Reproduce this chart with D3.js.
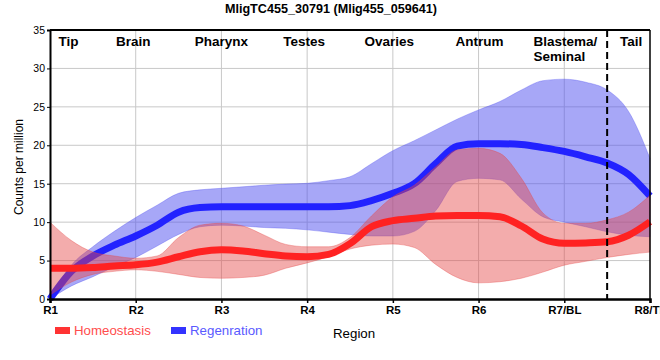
<!DOCTYPE html>
<html><head><meta charset="utf-8">
<script src="https://cdn.jsdelivr.net/npm/d3@7"></script>
<style>
body{margin:0;background:#fff;}
svg{display:block;}
</style></head>
<body><svg id="c" width="660" height="360"></svg>
<script>
const title = "MligTC455_30791 (Mlig455_059641)";
const tickLabels = ["R1","R2","R3","R4","R5","R6","R7/BL","R8/TL"];
const regionNames = ["Tip","Brain","Pharynx","Testes","Ovaries","Antrum","Blastema/\nSeminal","Tail"];
const regionPos = [1.1,1.77,2.69,3.72,4.67,5.73,6.64,7.65];
const dividers = [7.5];
const yTicks = [0,5,10,15,20,25,30,35];
const pos = [1,1.25,1.5,1.75,2,2.25,2.5,2.75,3,3.25,3.5,3.75,4,4.25,4.5,4.75,5,5.25,5.5,5.75,6,6.25,6.5,6.75,7,7.25,7.5,7.75,8];
const regMean = [0,3.6,5.6,7.0,8.2,9.6,11.3,11.9,12.0,12.0,12.0,12.0,12.0,12.0,12.15,12.8,13.75,15.0,17.6,19.9,20.2,20.2,20.1,19.7,19.2,18.5,17.7,16.2,13.4];
const regUpper = [0,4.4,6.8,8.8,10.6,12.2,13.75,14.2,14.4,14.6,14.8,14.95,15.05,15.4,15.9,17.6,19.3,20.6,22.0,23.4,24.6,25.7,27.2,28.4,28.6,28.2,27.2,24.4,18.3];
const regLower = [0,1.7,2.9,4.2,5.4,6.9,8.4,9.4,9.6,9.5,9.3,9.2,9.0,8.7,8.4,8.2,8.2,8.8,11.5,15.3,15.7,15.5,13.0,10.7,10.0,9.4,8.75,8.3,8.1];
const homMean = [4.0,4.0,4.1,4.3,4.45,4.8,5.5,6.15,6.4,6.25,5.9,5.6,5.5,5.8,7.2,9.4,10.2,10.5,10.8,10.85,10.85,10.7,9.5,7.8,7.25,7.3,7.45,8.3,10.05];
const homUpper = [10.0,7.6,6.1,5.6,5.3,5.6,8.0,9.6,9.85,9.5,8.3,7.1,6.8,6.8,8.0,10.8,13.3,14.8,17.2,19.4,19.6,18.95,15.7,11.2,9.85,9.85,10.3,11.3,13.5];
const homLower = [0.5,2.2,3.2,3.6,3.8,3.6,3.2,2.8,2.7,2.8,3.1,4.0,4.7,5.5,6.5,7.0,7.15,6.7,4.5,2.8,2.1,2.25,2.7,3.5,4.4,4.9,5.4,5.8,6.1];
const seriesNames = ["Homeostasis","Regenration"];

const svg = d3.select("#c");
const L=50,R=650,T=30,B=299;
const x = d3.scaleLinear().domain([1,8]).range([L,R]);
const y = d3.scaleLinear().domain([0,35]).range([B,T]);
const SANS = "'Liberation Sans',Arial,sans-serif";

svg.append("text").attr("x",331).attr("y",12.5).attr("text-anchor","middle")
  .style("font-family",SANS).style("font-weight","bold").style("font-size","12.6px").text(title);

// grid
const g = svg.append("g");
g.selectAll("line.h").data(yTicks.slice(1,-1)).join("line")
  .attr("x1",L).attr("x2",R).attr("y1",d=>y(d)).attr("y2",d=>y(d))
  .attr("stroke","#c8c8c8").attr("stroke-width",1);
g.selectAll("line.v").data(d3.range(2,8)).join("line")
  .attr("x1",d=>x(d)).attr("x2",d=>x(d)).attr("y1",T).attr("y2",B)
  .attr("stroke","#c8c8c8").attr("stroke-width",1);

const curve = d3.curveMonotoneX;
function band(lo,hi){ return d3.area().curve(curve).x((d,i)=>x(pos[i])).y0((d,i)=>y(lo[i])).y1((d,i)=>y(hi[i]))(pos); }
function line(v){ return d3.line().curve(curve).x((d,i)=>x(pos[i])).y((d,i)=>y(v[i]))(pos); }

svg.append("path").attr("d",band(regLower,regUpper)).attr("fill","rgba(80,80,240,0.5)").attr("stroke","rgba(80,80,240,0.35)").attr("stroke-width",1);
svg.append("path").attr("d",line(regMean)).attr("fill","none").attr("stroke","#2222ff").attr("stroke-width",7);
svg.append("path").attr("d",band(homLower,homUpper)).attr("fill","rgba(228,70,70,0.45)").attr("stroke","rgba(228,70,70,0.35)").attr("stroke-width",1);
svg.append("path").attr("d",line(homMean)).attr("fill","none").attr("stroke","#ff2222").attr("stroke-width",7);

// frame
svg.append("line").attr("x1",L).attr("x2",R).attr("y1",T).attr("y2",T).attr("stroke","#000").attr("stroke-width",2);
svg.append("line").attr("x1",R).attr("x2",R).attr("y1",T).attr("y2",B).attr("stroke","#000").attr("stroke-width",1.5);

// dashed divider
svg.selectAll("line.div").data(dividers).join("line")
  .attr("x1",d=>x(d)).attr("x2",d=>x(d)).attr("y1",T).attr("y2",B)
  .attr("stroke","#000").attr("stroke-width",2).attr("stroke-dasharray","7,4");

// axes
const yAxis = d3.axisLeft(y).tickValues(yTicks).tickSize(3).tickPadding(2);
const ya = svg.append("g").attr("transform",`translate(${L},0)`).call(yAxis);
ya.select(".domain").attr("stroke-width",2);
ya.selectAll("text").style("font-family",SANS).style("font-size","10.5px").attr("fill","#000");

const xAxis = d3.axisBottom(x).tickValues(d3.range(1,9)).tickFormat((d,i)=>tickLabels[i]).tickSize(4).tickPadding(3);
const xa = svg.append("g").attr("transform",`translate(0,${B})`).call(xAxis);
xa.select(".domain").attr("stroke-width",2.5);
xa.selectAll("line").attr("stroke-width",1.5);
xa.selectAll("text").style("font-family",SANS).style("font-weight","bold").style("font-size","11.5px").attr("fill","#000");

// region labels
regionNames.forEach((n,i)=>{
  const t = svg.append("text").attr("x",x(regionPos[i])).attr("y",46)
    .style("font-family",SANS).style("font-weight","bold").style("font-size","13.5px");
  n.split("\n").forEach((s,j)=>t.append("tspan").attr("x",x(regionPos[i])).attr("dy",j?14.5:0).text(s));
});

// y title
svg.append("text").attr("transform","translate(23,167) rotate(-90)").attr("text-anchor","middle")
  .style("font-family",SANS).style("font-size","12px").text("Counts per million");

// legend
const legColors = ["#ff3333","#3333ff"];
const legText = ["#ff4d4d","#5a5aff"];
const legX = [55,171];
seriesNames.forEach((n,i)=>{
  svg.append("rect").attr("x",legX[i]).attr("y",327).attr("width",15).attr("height",7).attr("fill",legColors[i]);
  svg.append("text").attr("x",legX[i]+19).attr("y",335).attr("fill",legText[i])
    .style("font-family",SANS).style("font-size","13.3px").text(n);
});
svg.append("text").attr("x",333).attr("y",338).style("font-family",SANS).style("font-size","13.3px").text("Region");
</script></body></html>
